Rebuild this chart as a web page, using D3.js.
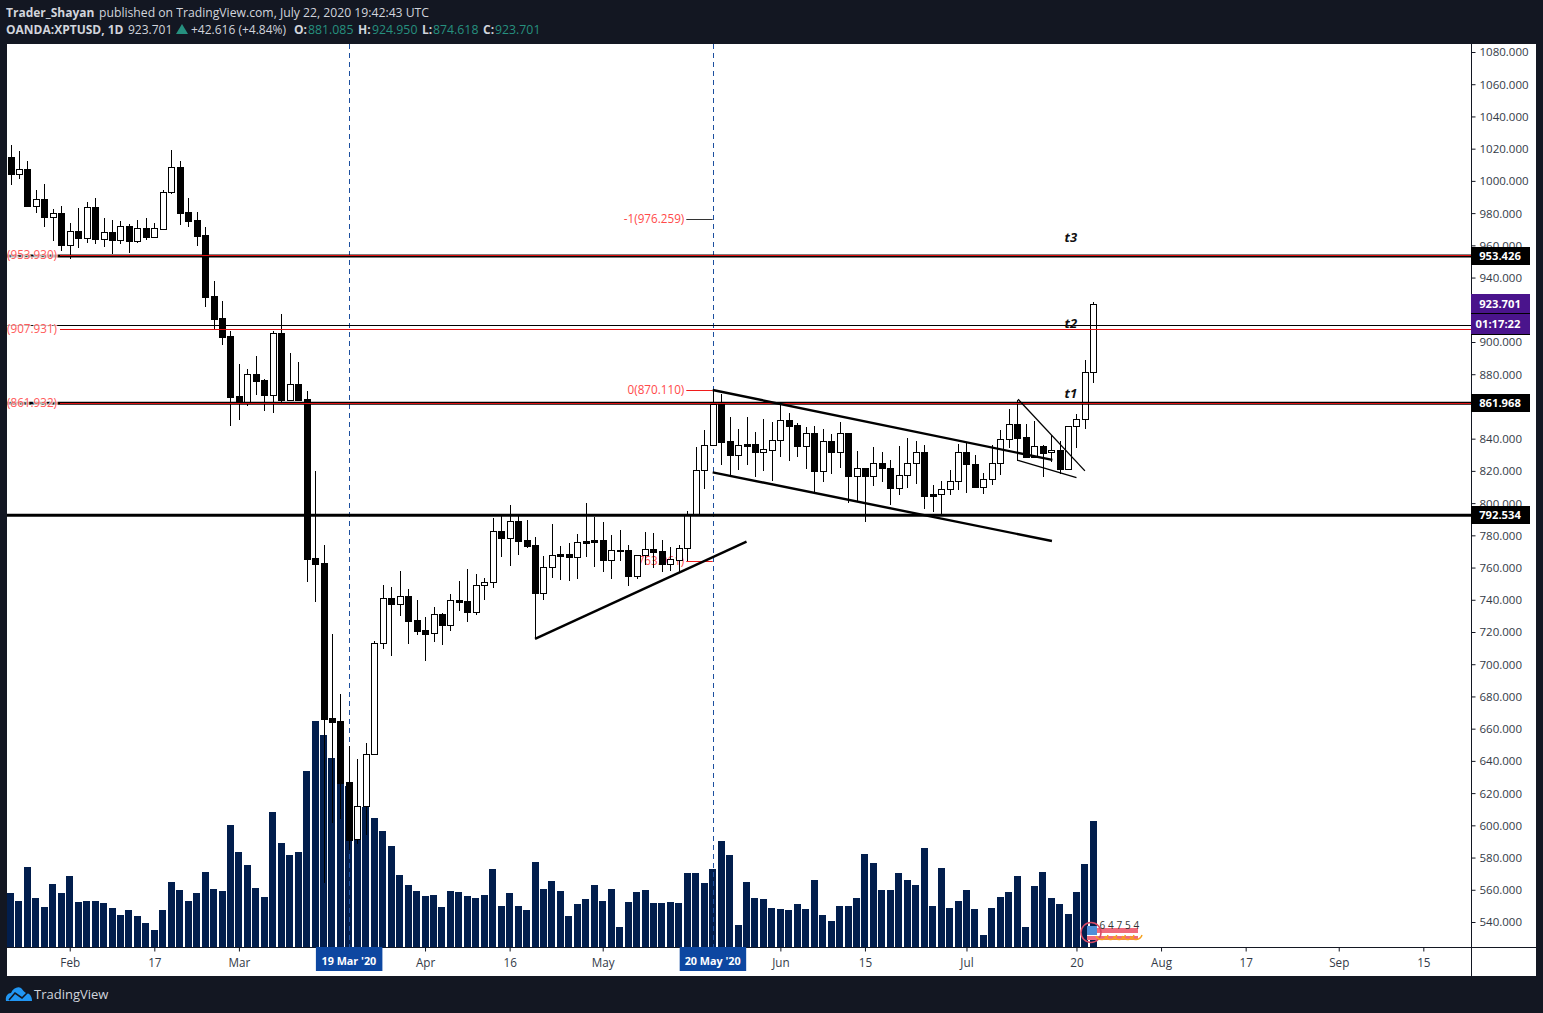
<!DOCTYPE html>
<html><head><meta charset="utf-8">
<script src="https://d3js.org/d3.v7.min.js"></script>
<style>html,body{margin:0;padding:0;background:#131722;overflow:hidden}svg{display:block}</style>
</head><body><svg id="c" width="1543" height="1013"></svg>
<script>
// [open, high, low, close] per trading day, USD
const opens=[1014.7,1004.5,1007.2,984.6,988.6,977.8,979.9,960.4,968.7,964.8,983.6,964.1,968.1,963.5,971.8,962.9,970.6,965.4,970.3,993,1008.5,980.5,975.6,966.2,928.4,914.7,903.6,866.3,863,880,876.3,867.3,905.4,864.2,873.8,864.4,765.8,762.7,666.6,664.8,626.9,591.3,611.8,644.1,713,741,737.6,742.2,727.3,721,719.2,731,724.5,739.9,739.3,732.6,749,750.9,782.5,778.2,788.7,777,774,744.4,760.2,768.4,768.4,766.8,776.5,777.1,776.9,764.9,770.9,770.9,754.8,767.6,771.3,770.1,762.4,764.9,772,793.1,820.4,835.9,861.5,838.4,830.1,836.5,836.5,832,833.2,839,851.4,848.3,835.7,843.4,820.1,838.4,832,843.4,817,821.6,817,824.7,821.6,809.6,817.3,824.7,831.6,805.7,805.5,808.6,813.6,831.6,824.1,810.2,814.8,824.7,839.6,848.9,840.9,828.8,835.5,831.6,832.8,821.4,847.7,852,881.085];
const highs=[1022.3,1018.6,1012.4,994.4,998.1,982.6,984.4,973.9,983.2,986.9,989.4,977,975.8,975.1,973.3,975.8,977,973.9,994.4,1019.2,1012.4,989.4,980.7,971.4,937.9,925.5,906.8,886.4,883.3,891.3,877,906.8,917.4,893.2,887.6,869.6,820,774,718.8,681.5,649.3,641.2,651.1,714.4,749.2,748,757.9,746.7,739.9,729.3,735.5,731.8,743.6,751.7,759.1,756,753.5,790.8,792.6,798.8,792,789.5,779,767.2,787,773.4,775.3,780.8,800.1,791.4,788.3,780.2,783.3,774,767.8,782.3,781.5,777.1,772.8,774,795.1,834.8,845.4,870.2,867.7,853.5,846,853.5,844.2,852.2,850.4,862.2,856,849.7,847.3,847.9,846,842.9,850.4,843.5,832.4,821.8,834.8,831.7,826.8,835.5,840.4,838.6,836.1,811.3,813.7,820.6,836.7,838,829.9,818.9,836.1,845.4,858.4,864,849.1,851,836.1,842.3,838.6,847.9,855.3,888.8,924.95];
const lows=[997.5,1001.2,984.4,980.3,971.6,962.7,956.7,951.7,958.6,961.6,960.8,959.2,954.6,960.8,955.4,961.6,963.3,964.8,969.7,992.1,972.8,971.6,959.8,921.9,908.1,898.3,848,851.6,860.3,867.1,857.4,856,862.8,864,863.6,751.2,738.8,564.4,601.3,603.8,584.7,588.4,593.9,643.7,709.6,705.1,729.9,712.8,718.2,702.2,714,712.1,720.8,733.2,726.4,730.8,740.1,747.5,766.8,761.2,768,772.3,715.9,739.9,753.7,752.3,751.7,752.9,766.6,760.4,757.3,752.9,764.3,748.6,753.1,761.6,759.8,757.3,757.9,757.4,763.9,793.1,809,835.9,823.7,817.5,820.6,823.7,816.2,820,813.7,828.6,826.2,828.6,821.2,806.9,813.1,818.1,821.8,800.1,800.7,788.3,810.6,813.1,798.8,805.1,809.4,812.1,796.4,794.7,793.3,805.1,808.2,806.5,810.2,805.7,811.3,817.5,834.2,826.3,828,828.8,816.4,825.7,818.1,821.2,834.4,846.2,874.618];
const closes=[1004.5,1007.2,984.6,988.6,977.8,979.9,960.4,968.7,964.8,983.6,964.1,968.1,963.5,971.8,962.9,970.6,965.4,970.6,993,1008.5,980.3,975.3,966,928.1,914.5,903.3,866,862.3,880,876,867.3,905.4,864.2,873.8,864.2,765.5,762.4,666.2,664.2,626.5,590.9,611.8,644.1,713,741,737.6,742.2,727,720.8,719,731,724.5,739.7,738.8,732.6,749,750.9,782.5,778.2,788.7,776.7,773.6,744.4,760.2,767.6,767.2,766.8,775.7,775.4,776,764.9,770.7,770.3,754.8,767.6,771.3,769.9,762.2,765.1,772,793.1,820.4,835.9,861.5,838.1,830.1,835.9,835.7,832,833.4,839,851.4,848,835.7,843.4,820.1,838.4,832,843.4,817,821.6,817,824.7,821.6,809.6,817.3,824.7,831.6,804.6,804.6,808.6,813.6,831.6,824.1,810.2,814.8,824.7,839.6,848.9,840.6,828.8,835.3,831.3,832.8,821.4,847.7,852,881.2,923.701];
const volumes=[54,46,80,49,40,63,54,71,45,46,46,44,39,32,37,31,24,17,37,65,57,46,54,75,58,56,122,95,82,59,50,135,104,92,95,176,226,212,189,164,161,128,140,129,116,101,72,62,56,51,52,40,56,55,51,49,52,78,41,54,41,37,85,58,66,56,31,43,48,62,46,58,20,45,55,57,44,44,45,44,74,74,64,78,106,92,22,65,49,48,39,38,37,43,38,67,32,26,41,41,49,93,84,57,57,74,67,62,99,41,79,39,46,57,38,12,39,50,55,71,20,61,75,49,43,33,55,83,126];
// time axis: trading-day index and label
const timeTickIdx=[7,17,27,49,59,70,91,101,113,126,136,146,157,167];
const timeTickLabels=["Feb","17","Mar","Apr","16","May","Jun","15","Jul","20","Aug","17","Sep","15"];
const priceTicks=d3.range(540,1081,20);
// horizontal levels (price)
const thickLevels=[953.426,861.968,792.534];
const thinLevels=[910.4];
const redLevels=[953.930,907.931,861.932];
const redLabels=["(953.930)","(907.931)","(861.932)"];
// trend lines: [index, price, index, price, width]
const trendLines=[[62,715.7,87,776.1,2.4],[83,870.2,123.15,826.8,2.4],[83,819.1,123.1,776.5,2.4],[119.1,864.5,127,820,1.3],[119.1,826.6,126,815.8,1.3]];
const fibPrices=[976.259,870.110,763.961];
const fibLabels=["-1(976.259)","0(870.110)","1(763.961)"];
const fibColors=["#333","#f01c1c","#f01c1c"];
const targets=[["t1",124.6,865],["t2",124.6,908.5],["t3",124.6,962]];
const markIdx=[40,83];
const markLabels=["19 Mar '20","20 May '20"];
const priceTags=[["953.426",953.426,"#000"],["861.968",861.968,"#000"],["792.534",792.534,"#000"]];
const flagDigits=["6","4","7","5","4"];

const svg=d3.select("#c");
const FONT="'Open Sans','Noto Sans',sans-serif";
const L=7,R=1471,T=44,B=947,AR=1536,TB=976;
const x=d3.scaleLinear().domain([0,128]).range([10.5,10.5+128*8.46]);
const y=d3.scaleLinear().domain([540,1080]).range([922,52]);
const v=d3.scaleLinear().domain([0,100]).range([B,B-100]);

svg.append("rect").attr("width",1543).attr("height",1013).attr("fill","#131722");
svg.append("rect").attr("x",L).attr("y",T).attr("width",AR-L).attr("height",TB-T).attr("fill","#fff");
const defs=svg.append("defs");
defs.append("clipPath").attr("id","plot").append("rect").attr("x",L).attr("y",T).attr("width",R-L).attr("height",B-T);
const plot=svg.append("g").attr("clip-path","url(#plot)");

// volume
plot.append("g").selectAll("rect").data(volumes).join("rect")
 .attr("shape-rendering","crispEdges")
 .attr("x",(d,i)=>Math.round(x(i)-3.5)).attr("width",7.4)
 .attr("y",d=>v(d)).attr("height",d=>B-v(d)).attr("fill","#021e4d");

// markers
const blue="#1c4f9f";
plot.append("g").selectAll("line").data(markIdx).join("line")
 .attr("x1",d=>Math.round(x(d))+.5).attr("x2",d=>Math.round(x(d))+.5).attr("y1",T).attr("y2",B)
 .attr("stroke",blue).attr("stroke-dasharray","5,4").attr("stroke-width",1);

// fib
const fibX1=x(83);
plot.append("g").selectAll("line").data(fibPrices).join("line")
 .attr("x1",x(80)-1).attr("x2",fibX1).attr("y1",d=>Math.round(y(d))+.5).attr("y2",d=>Math.round(y(d))+.5)
 .attr("stroke",(d,i)=>fibColors[i]).attr("stroke-width",1);
plot.append("g").selectAll("text").data(fibPrices).join("text")
 .attr("x",x(80)-3).attr("y",d=>y(d)+4).attr("text-anchor","end")
 .attr("font-family",FONT).attr("font-size",11.7).attr("fill","#ff4a4a")
 .attr("stroke","#fff").attr("stroke-width",2.5).attr("paint-order","stroke")
 .text((d,i)=>fibLabels[i]);

// candles
const cg=plot.append("g");
opens.forEach((o,i)=>{
  const c=closes[i],cx=Math.round(x(i))+.5;
  cg.append("line").attr("x1",cx).attr("x2",cx).attr("y1",y(highs[i])).attr("y2",y(lows[i])).attr("stroke","#000").attr("stroke-width",1).attr("shape-rendering","crispEdges");
  const top=Math.round(y(Math.max(o,c))),bot=Math.round(y(Math.min(o,c)));
  cg.append("rect").attr("x",cx-3).attr("width",6).attr("y",top+.5).attr("height",Math.max(1,bot-top))
    .attr("fill",c>=o?"#fff":"#000").attr("stroke","#000").attr("stroke-width",1).attr("shape-rendering","crispEdges");
});

// levels
plot.append("g").selectAll("line").data(thickLevels).join("line")
 .attr("x1",L).attr("x2",R).attr("y1",d=>y(d)).attr("y2",d=>y(d)).attr("stroke","#000").attr("stroke-width",3);
plot.append("g").selectAll("line").data(thinLevels).join("line")
 .attr("x1",L).attr("x2",R).attr("y1",d=>Math.round(y(d))+.5).attr("y2",d=>Math.round(y(d))+.5).attr("stroke","#000").attr("stroke-width",1);
plot.append("g").selectAll("line").data(redLevels).join("line")
 .attr("x1",60).attr("x2",R).attr("y1",d=>Math.round(y(d))+.5).attr("y2",d=>Math.round(y(d))+.5).attr("stroke","#e01010").attr("stroke-width",1);
plot.append("g").selectAll("text").data(redLevels).join("text")
 .attr("x",7).attr("y",d=>y(d)+4).attr("font-family",FONT).attr("font-size",11.7).attr("fill","#ff5a5a")
 .attr("stroke","#fff").attr("stroke-opacity",.75).attr("stroke-width",2.5).attr("paint-order","stroke")
 .text((d,i)=>redLabels[i]);

// trend lines
plot.append("g").selectAll("line").data(trendLines).join("line")
 .attr("x1",d=>x(d[0])).attr("y1",d=>y(d[1])).attr("x2",d=>x(d[2])).attr("y2",d=>y(d[3]))
 .attr("stroke","#000").attr("stroke-width",d=>d[4]);

// targets
plot.append("g").selectAll("text").data(targets).join("text")
 .attr("x",d=>x(d[1])).attr("y",d=>y(d[2])).attr("font-family",FONT).attr("font-weight",700).attr("font-style","italic")
 .attr("font-size",13).attr("fill","#111").text(d=>d[0]);

// small flag indicator
const fl=plot.append("g").attr("transform","translate(1086,922)");
fl.append("rect").attr("x",1).attr("y",6).attr("width",51).attr("height",12).attr("fill","#ef6b7d");
fl.append("rect").attr("x",1).attr("y",11).attr("width",51).attr("height",3).attr("fill","#fff");
fl.append("rect").attr("x",1).attr("y",4).attr("width",10).attr("height",9).attr("fill","#4f8fd8");
fl.append("circle").attr("cx",5).attr("cy",10.5).attr("r",10).attr("fill","none").attr("stroke","#d84a66").attr("stroke-width",1.5);
[16,24.7,33.4,42,50].forEach(dx=>fl.append("path").attr("d",`M${dx-6},14 A6.5 6.5 0 0 0 ${dx+6},13`).attr("fill","none").attr("stroke","#f6a21e").attr("stroke-width",1.5));
flagDigits.forEach((s,i)=>fl.append("text").attr("x",13.5+i*8.5).attr("y",6.5).attr("font-family",FONT).attr("font-size",10).attr("fill","#333").text(s));

// axes
const yAxis=d3.axisRight(y).tickValues(priceTicks).tickSize(4).tickPadding(4).tickFormat(d3.format(".3f"));
const ya=svg.append("g").attr("transform",`translate(${R+.5},0)`).call(yAxis);
ya.select(".domain").attr("d",`M0,${T}V${TB}`).attr("stroke","#131722");
ya.selectAll("line").attr("stroke","#131722");
ya.selectAll("text").attr("font-family",FONT).attr("font-size",11.5).attr("fill","#333a47").attr("dy","0.34em");

const xAxis=d3.axisBottom(x).tickValues(timeTickIdx).tickSize(4).tickPadding(4).tickFormat((d,i)=>timeTickLabels[i]);
const xa=svg.append("g").attr("transform",`translate(0,${B+.5})`).call(xAxis);
xa.select(".domain").attr("d",`M${L},0H${AR}`).attr("stroke","#131722");
xa.selectAll("line").attr("stroke","#131722");
xa.selectAll("text").attr("font-family",FONT).attr("font-size",11.7).attr("fill","#333a47");
xa.selectAll("text").attr("y",11);

// price tags
const tagW=59;
priceTags.forEach(t=>{
  const yy=Math.round(y(t[1]));
  svg.append("rect").attr("x",R).attr("y",yy-9).attr("width",tagW).attr("height",18).attr("fill",t[2]);
  svg.append("text").attr("x",R+29).attr("y",yy+4).attr("text-anchor","middle").attr("font-family",FONT).attr("font-weight",700).attr("font-size",11.2).attr("fill","#fff").text(t[0]);
});
const lastY=Math.round(y(closes[128]));
svg.append("rect").attr("x",R).attr("y",lastY-10).attr("width",tagW).attr("height",41).attr("fill","#000");
svg.append("rect").attr("x",R).attr("y",lastY-10).attr("width",tagW).attr("height",19).attr("fill","#4a148c");
svg.append("rect").attr("x",R).attr("y",lastY+10).attr("width",tagW).attr("height",20).attr("fill","#4a148c");
svg.append("text").attr("x",R+29).attr("y",lastY+4).attr("text-anchor","middle").attr("font-family",FONT).attr("font-weight",700).attr("font-size",11.2).attr("fill","#fff").text("923.701");
svg.append("text").attr("x",R+27).attr("y",lastY+24).attr("text-anchor","middle").attr("font-family",FONT).attr("font-weight",700).attr("font-size",11.2).attr("fill","#fff").text("01:17:22");

// date tags
markIdx.forEach((m,i)=>{
  const cx=x(m);
  svg.append("rect").attr("x",cx-33).attr("y",B).attr("width",66.5).attr("height",24).attr("fill","#0d47a1");
  svg.append("text").attr("x",cx).attr("y",B+18).attr("text-anchor","middle").attr("font-family",FONT).attr("font-weight",700).attr("font-size",10.8).attr("fill","#fff").text(markLabels[i]);
});

// header
const hdr=(xp,yp,txt,col,bold,fs)=>svg.append("text").attr("x",xp).attr("y",yp).attr("font-family",FONT).attr("font-size",fs||12).attr("font-weight",bold?700:400).attr("fill",col).text(txt);
const W="#d1d4dc",G="#26907f";
hdr(6,17,"Trader_Shayan",W,true);
hdr(99,17,"published on TradingView.com, July 22, 2020 19:42:43 UTC",W,false,12.2);
hdr(6,34,"OANDA:XPTUSD, 1D",W,true);
hdr(128,34,"923.701",W,false);
svg.append("path").attr("d","M176,34L182,24L188,34Z").attr("fill",G);
hdr(191,34,"+42.616 (+4.84%)",W,false);
[[294,"O:",308,"881.085"],[358,"H:",372,"924.950"],[422,"L:",433,"874.618"],[483,"C:",495,"923.701"]].forEach(a=>{
  hdr(a[0],34,a[1],W,true); hdr(a[2],34,a[3],G,false,12.3);
});

// logo
svg.append("path").attr("d","M6,1001 C5,996 8,993 11,993 C13,988 18,986 21,988 C23,990 24,992 26,993 C30,993 32,997 32,1001 Z").attr("fill","#2196f3");
svg.append("path").attr("d","M9,1000 L15,993 L22,998 L28,992").attr("fill","none").attr("stroke","#131722").attr("stroke-width",1.6);
svg.append("text").attr("x",34).attr("y",999).attr("font-family",FONT).attr("font-size",13).attr("fill","#d1d4dc").text("TradingView");
</script></body></html>
